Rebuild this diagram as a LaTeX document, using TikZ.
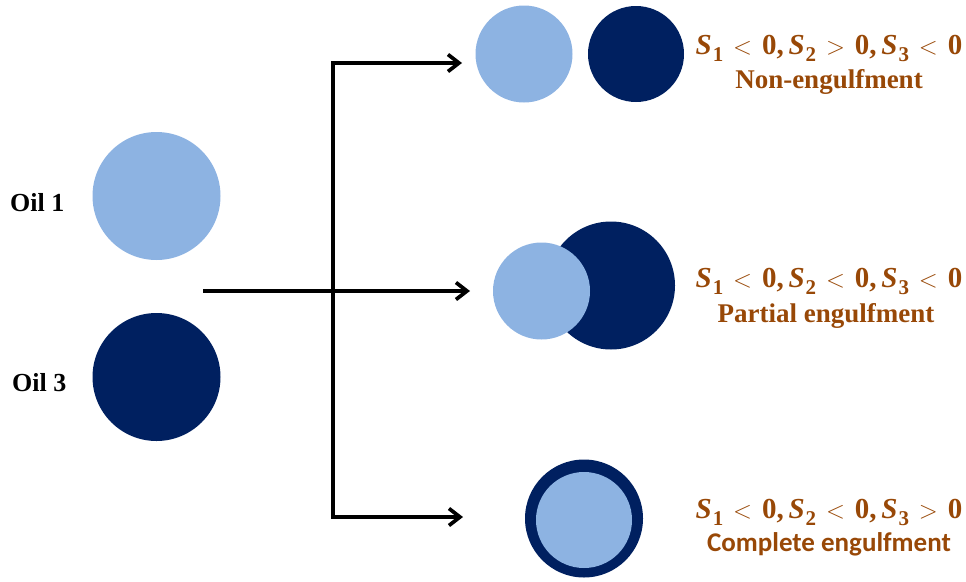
\documentclass[tikz,border=0pt]{standalone}
\usepackage{fontspec}
\setmainfont{Liberation Serif}
\newfontfamily\calfont{Carlito}
\usetikzlibrary{arrows.meta}
\definecolor{lightoil}{RGB}{141,179,226}
\definecolor{darkoil}{RGB}{0,32,96}
\definecolor{labelbrown}{RGB}{152,72,7}
\newcommand\Sv[1]{\textbf{\textit{S}}\kern1pt\raisebox{-0.25em}{\fontsize{21}{21}\selectfont\textbf{#1}}}
\newcommand\rel[1]{\hspace{0.34em}$#1$\hspace{0.34em}}
\tikzset{
  lightdrop/.style={circle, fill=lightoil, inner sep=0pt, minimum size=#1},
  darkdrop/.style={circle, fill=darkoil, inner sep=0pt, minimum size=#1},
  oillabel/.style={anchor=base west, inner sep=0pt, font=\fontsize{26}{26}\selectfont\bfseries},
  condlabel/.style={anchor=base, inner sep=0pt, text=labelbrown, font=\fontsize{27}{27}\selectfont\bfseries},
  mathlabel/.style={anchor=base, inner sep=0pt, text=labelbrown, font=\fontsize{29}{29}\selectfont\bfseries},
  arr/.style={line width=3.7pt, -{Straight Barb[length=11pt,width=17pt]}},
}
\begin{document}
\begin{tikzpicture}[x=1pt, y=-1pt]
\useasboundingbox (0,0) rectangle (966,581);
% source drops
\node[lightdrop=128pt] (oil1) at (156.5,196) {};
\node[darkdrop=128pt] (oil3) at (156.5,377) {};
\node[oillabel] (l1) at (10,211) {Oil 1};
\node[oillabel] (l3) at (12,391) {Oil 3};
% result drops
\node[lightdrop=97pt] (n1) at (524,54) {};
\node[darkdrop=96pt] (n3) at (636,54) {};
\node[darkdrop=128pt] (p3) at (611,285.5) {};
\node[lightdrop=97pt] (p1) at (541.5,291) {};
\node[darkdrop=118pt] (c3) at (584,518.5) {};
\node[lightdrop=96pt] (c1) at (584,520) {};
% connectors
\coordinate (s) at (203,291);
\coordinate (j) at (333,291);
\coordinate (a1) at (462,63);
\coordinate (a2) at (470,291);
\coordinate (a3) at (463,517);
\draw[arr] (s) -- (a2);
\draw[arr] (j) |- (a1);
\draw[arr] (j) |- (a3);
% labels
\node[mathlabel] (t1a) at (829,54) {\Sv1\rel{<}0,\,\Sv2\rel{>}0,\,\Sv3\rel{<}0};
\node[condlabel] (t1b) at (829,88) {Non-engulfment};
\node[mathlabel] (t2a) at (829,287) {\Sv1\rel{<}0,\,\Sv2\rel{<}0,\,\Sv3\rel{<}0};
\node[condlabel] (t2b) at (826,322) {Partial engulfment};
\node[mathlabel] (t3a) at (829,518) {\Sv1\rel{<}0,\,\Sv2\rel{<}0,\,\Sv3\rel{>}0};
\node[condlabel, font=\calfont\fontsize{27}{27}\selectfont\bfseries] (t3b) at (829,551) {Complete engulfment};
\end{tikzpicture}
\end{document}
